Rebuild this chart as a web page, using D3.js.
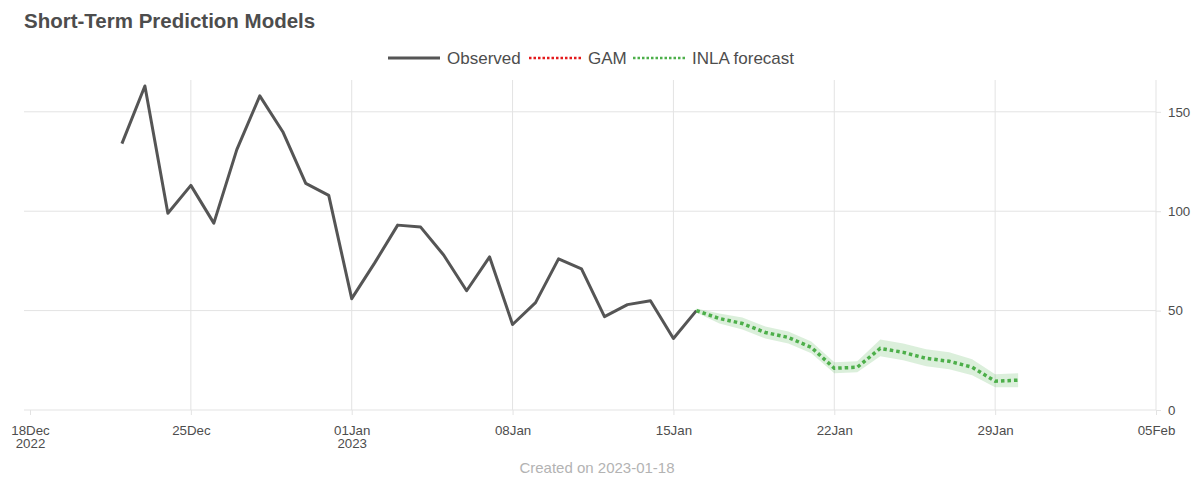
<!DOCTYPE html>
<html>
<head>
<meta charset="utf-8">
<script src="https://cdn.jsdelivr.net/npm/d3@7"></script>
<style>
  body { margin: 0; background: #fff; }
  svg { font-family: 'Liberation Sans', Arial, sans-serif; }
</style>
</head>
<body>
<svg width="1197" height="477"></svg>
<script>
(function (d3) {
    'use strict';

    // observed daily counts
    const obsDates = ['2022-12-22', '2022-12-23', '2022-12-24', '2022-12-25', '2022-12-26', '2022-12-27',
        '2022-12-28', '2022-12-29', '2022-12-30', '2022-12-31', '2023-01-01', '2023-01-02', '2023-01-03',
        '2023-01-04', '2023-01-05', '2023-01-06', '2023-01-07', '2023-01-08', '2023-01-09', '2023-01-10',
        '2023-01-11', '2023-01-12', '2023-01-13', '2023-01-14', '2023-01-15', '2023-01-16'];
    const obsValues = [134, 163, 99, 113, 94, 131, 158, 140, 114, 108, 56, 74, 93, 92, 78, 60, 77, 43, 54, 76,
        71, 47, 53, 55, 36, 50];

    // INLA forecast with interval
    const fcDates = ['2023-01-16', '2023-01-17', '2023-01-18', '2023-01-19', '2023-01-20', '2023-01-21',
        '2023-01-22', '2023-01-23', '2023-01-24', '2023-01-25', '2023-01-26', '2023-01-27', '2023-01-28',
        '2023-01-29', '2023-01-30'];
    const fcValues = [50, 46, 43.5, 39, 36.5, 31.5, 21, 21.5, 31, 29, 26, 24.5, 21.5, 14.5, 15];
    const fcLower = [49, 43.5, 40.5, 36, 33.5, 28.5, 18.5, 19, 27, 25, 22, 20.5, 17.5, 11.5, 11.5];
    const fcUpper = [51, 48.5, 46.5, 42, 39.5, 34.5, 24, 24.5, 35.5, 33.5, 30.5, 29, 25.5, 18, 18.5];

    // GAM (only the anchor point is visible in the picture)
    const gamDates = ['2023-01-16'];
    const gamValues = [50];

    const xTickDates = ['2022-12-18', '2022-12-25', '2023-01-01', '2023-01-08', '2023-01-15',
        '2023-01-22', '2023-01-29', '2023-02-05'];
    const yTicks = [0, 50, 100, 150];

    const legendLabels = ['Observed', 'GAM', 'INLA forecast'];
    const legendColors = ['#555555', '#e41a1c', '#4daf4a'];

    const parse = d3.timeParse('%Y-%m-%d');
    const observed = obsDates.map((d, i) => ({date: parse(d), value: obsValues[i]}));
    const forecast = fcDates.map((d, i) => ({date: parse(d), value: fcValues[i], lo: fcLower[i], hi: fcUpper[i]}));
    const gam = gamDates.map((d, i) => ({date: parse(d), value: gamValues[i]}));
    const xTicks = xTickDates.map(parse);

    const svg = d3.select('svg');
    const panel = {left: 24, right: 1156, top: 80, bottom: 410};

    const x = d3.scaleTime()
        .domain([parse('2022-12-18'), parse('2023-02-05')])
        .range([30, 1156]);
    const y = d3.scaleLinear()
        .domain([0, 166])
        .range([panel.bottom, panel.top]);

    // grid
    const grid = svg.append('g').attr('stroke', '#e3e3e3').attr('stroke-width', 1);
    grid.selectAll('line.h').data(yTicks)
        .enter().append('line')
        .attr('x1', panel.left).attr('x2', panel.right)
        .attr('y1', d => y(d)).attr('y2', d => y(d));
    grid.selectAll('line.v').data(xTicks.slice(1))
        .enter().append('line')
        .attr('x1', d => x(d)).attr('x2', d => x(d))
        .attr('y1', panel.top).attr('y2', panel.bottom);

    // x axis
    const fmtDay = d3.timeFormat('%d%b');
    const xAxis = svg.append('g')
        .attr('transform', `translate(0,${panel.bottom})`)
        .call(d3.axisBottom(x).tickValues(xTicks).tickSize(5).tickSizeOuter(0).tickPadding(11).tickFormat(''));
    xAxis.select('.domain').remove();
    xAxis.selectAll('.tick line').attr('stroke', '#e3e3e3');
    xAxis.selectAll('.tick text')
        .attr('fill', '#4d4d4d')
        .attr('font-size', 13.3)
        .each(function (d, i) {
            const t = d3.select(this);
            t.append('tspan').attr('x', 0).attr('dy', '0.71em').text(fmtDay(d));
            if (i === 0 || d.getMonth() === 0 && d.getDate() === 1) {
                t.append('tspan').attr('x', 0).attr('dy', '0.95em').text(d3.timeFormat('%Y')(d));
            }
        });

    // y axis on the right
    const yAxis = svg.append('g')
        .attr('transform', `translate(${panel.right},0)`)
        .call(d3.axisRight(y).tickValues(yTicks).tickSize(5).tickSizeOuter(0).tickPadding(7));
    yAxis.select('.domain').remove();
    yAxis.selectAll('.tick line').attr('stroke', '#e3e3e3');
    yAxis.selectAll('.tick text').attr('fill', '#4d4d4d').attr('font-size', 13.3);

    // forecast band
    svg.append('path')
        .datum(forecast)
        .attr('fill', '#4daf4a')
        .attr('fill-opacity', 0.2)
        .attr('d', d3.area().x(d => x(d.date)).y0(d => y(d.lo)).y1(d => y(d.hi)));

    const line = d3.line().x(d => x(d.date)).y(d => y(d.value));

    svg.append('path')
        .datum(observed)
        .attr('fill', 'none')
        .attr('stroke', legendColors[0])
        .attr('stroke-width', 3)
        .attr('stroke-linejoin', 'round')
        .attr('d', line);

    svg.append('path')
        .datum(gam)
        .attr('fill', 'none')
        .attr('stroke', legendColors[1])
        .attr('stroke-width', 3)
        .attr('stroke-dasharray', '3,3')
        .attr('d', line);

    svg.append('path')
        .datum(forecast)
        .attr('fill', 'none')
        .attr('stroke', legendColors[2])
        .attr('stroke-width', 3.5)
        .attr('stroke-dasharray', '3.5,3')
        .attr('d', line);

    // title
    svg.append('text')
        .attr('x', 24).attr('y', 28)
        .attr('font-size', 20.5)
        .attr('font-weight', 'bold')
        .attr('fill', '#4d4d4d')
        .text('Short-Term Prediction Models');

    // legend
    const legendX = [388, 529, 633];
    const legend = svg.append('g').attr('transform', 'translate(0,58)');
    const items = legend.selectAll('g').data(legendLabels)
        .enter().append('g')
        .attr('transform', (d, i) => `translate(${legendX[i]},0)`);
    items.append('line')
        .attr('x1', 0).attr('x2', 52)
        .attr('stroke', (d, i) => legendColors[i])
        .attr('stroke-width', (d, i) => i === 0 ? 3 : 2.5)
        .attr('stroke-dasharray', (d, i) => i === 0 ? null : '2.5,2');
    items.append('text')
        .attr('x', 59).attr('dy', '0.36em')
        .attr('font-size', 17)
        .attr('fill', '#4d4d4d')
        .text(d => d);

    // caption
    svg.append('text')
        .attr('x', 597).attr('y', 473)
        .attr('text-anchor', 'middle')
        .attr('font-size', 15)
        .attr('fill', '#b3b3b3')
        .text('Created on 2023-01-18');

}(d3));
</script>
</body>
</html>
